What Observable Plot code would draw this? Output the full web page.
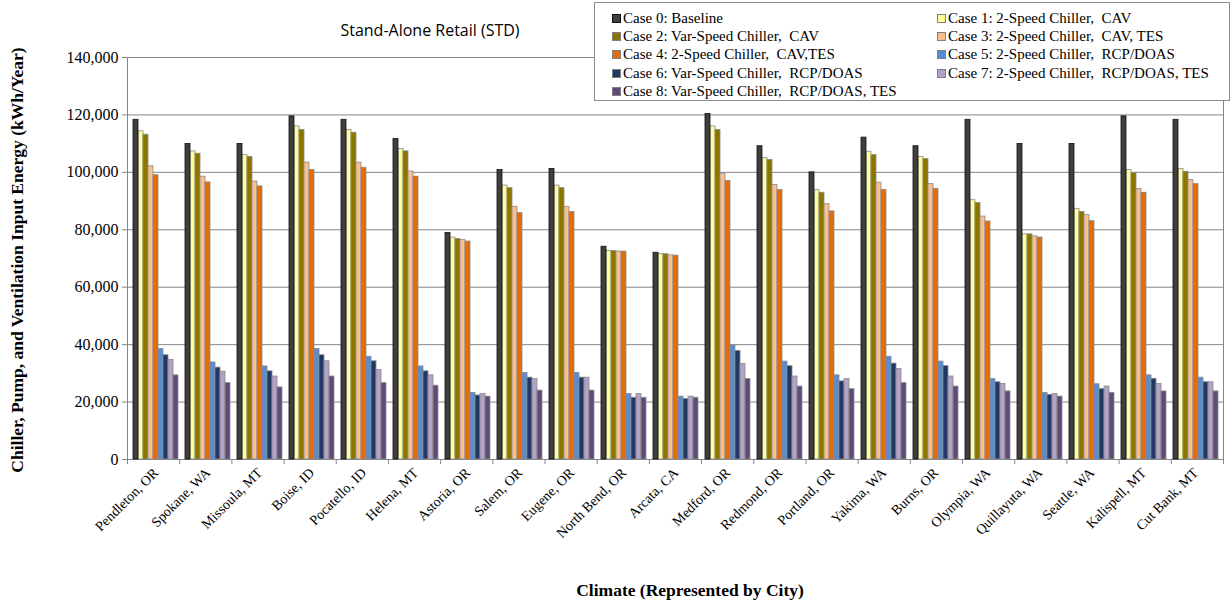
<!DOCTYPE html>
<html>
<head>
<meta charset="utf-8">
<script src="https://cdn.jsdelivr.net/npm/d3@7"></script>
<script src="https://cdn.jsdelivr.net/npm/@observablehq/plot@0.6"></script>
<style>
  body { margin: 0; background: #fff; }
  #wrap { position: relative; width: 1231px; height: 605px; overflow: hidden; font-family: "Liberation Serif", "Times New Roman", serif; }
  #wrap svg { position: absolute; left: 0; top: 0; }
  #wrap svg text { fill: #000; }
  #title { position: absolute; left: 430px; top: 30px; transform: translate(-50%, -50%); font-family: "Open Sans", sans-serif; font-size: 16px; color: #000; white-space: nowrap; }
  #ytitle { position: absolute; left: 17px; top: 260px; transform: translate(-50%, -50%) rotate(-90deg); font-weight: bold; font-size: 17.5px; white-space: nowrap; }
  #xtitle { position: absolute; left: 690px; top: 590px; transform: translate(-50%, -50%); font-weight: bold; font-size: 17.5px; white-space: nowrap; }
  #legend { position: absolute; left: 594px; top: 2px; width: 636px; height: 99px; border: 1px solid #8c8c8c; background: #fff;
            display: grid; grid-template-columns: 325px 290px; grid-auto-rows: 18.3px; padding: 6px 0 0 17px; box-sizing: border-box; font-size: 15px; }
  .item { display: flex; align-items: center; white-space: pre; }
  .sw { width: 7px; height: 7px; border: 1px solid #7f7f7f; margin-right: 2px; flex: none; }
</style>
</head>
<body>
<div id="wrap">
  <div id="title">Stand-Alone Retail (STD)</div>
  <div id="ytitle">Chiller, Pump, and Ventilation Input Energy (kWh/Year)</div>
  <div id="xtitle">Climate (Represented by City)</div>
</div>
<script>
// ---------------- data ----------------
const cities = ["Pendleton, OR", "Spokane, WA", "Missoula, MT", "Boise, ID", "Pocatello, ID", "Helena, MT",
  "Astoria, OR", "Salem, OR", "Eugene, OR", "North Bend, OR", "Arcata, CA", "Medford, OR", "Redmond, OR",
  "Portland, OR", "Yakima, WA", "Burns, OR", "Olympia, WA", "Quillayuta, WA", "Seattle, WA", "Kalispell, MT", "Cut Bank, MT"];

const caseLabels = ["Case 0: Baseline", "Case 1: 2-Speed Chiller,  CAV", "Case 2: Var-Speed Chiller,  CAV",
  "Case 3: 2-Speed Chiller,  CAV, TES", "Case 4: 2-Speed Chiller,  CAV,TES", "Case 5: 2-Speed Chiller,  RCP/DOAS",
  "Case 6: Var-Speed Chiller,  RCP/DOAS", "Case 7: 2-Speed Chiller,  RCP/DOAS, TES", "Case 8: Var-Speed Chiller,  RCP/DOAS, TES"];

const caseColors = ["#3f3f3f", "#ffff99", "#8b7700", "#fabf8f", "#e46c0a", "#558ed5", "#1f3864", "#b3a2c7", "#604a7b"];

const case0 = [118300, 109900, 109900, 119500, 118300, 111600, 78900, 100800, 101200, 74100, 72000, 120300, 109100, 100000, 112100, 109100, 118300, 109900, 109900, 119500, 118300];
const case1 = [114300, 107300, 106000, 116000, 114800, 108100, 77300, 95400, 95400, 72600, 71500, 116000, 105000, 93800, 107200, 105400, 90300, 78400, 87300, 100800, 101200];
const case2 = [113100, 106500, 105400, 114800, 113800, 107300, 76800, 94500, 94500, 72600, 71500, 114800, 104300, 92900, 106000, 104600, 89300, 78400, 86200, 99800, 100200];
const case3 = [102100, 98500, 96800, 103400, 103400, 100300, 76400, 88000, 88000, 72400, 71100, 99600, 95600, 88900, 96400, 95900, 84600, 77700, 85100, 94200, 97300];
const case4 = [99000, 96500, 95100, 100800, 101600, 98500, 75900, 85800, 86200, 72400, 71000, 97000, 93900, 86400, 93900, 94300, 82900, 77300, 83000, 92900, 95900];
const case5 = [38500, 33800, 32400, 38500, 35800, 32400, 23200, 30100, 30100, 22800, 21900, 39700, 34100, 29300, 35800, 34100, 28000, 23200, 26200, 29300, 28500];
const case6 = [36300, 32000, 30700, 36300, 34200, 30700, 22300, 28500, 28500, 21500, 21100, 37800, 32500, 27200, 33400, 32500, 26900, 22500, 24500, 28100, 26900];
const case7 = [34700, 30600, 28900, 34200, 31200, 29300, 22800, 28000, 28500, 22800, 21900, 33300, 28900, 28000, 31500, 28900, 26300, 22800, 25400, 26300, 26900];
const case8 = [29300, 26600, 25100, 28900, 26600, 25700, 21900, 24000, 24000, 21500, 21500, 28000, 25400, 24500, 26600, 25400, 23700, 21900, 23200, 23700, 23700];

const yTicks = [0, 20000, 40000, 60000, 80000, 100000, 120000, 140000];

// ---------------- build ----------------
const series = [case0, case1, case2, case3, case4, case5, case6, case7, case8];
const caseKeys = caseLabels.map(l => l.split(":")[0]);
const data = [];
series.forEach((vals, ci) => vals.forEach((v, i) => data.push({city: cities[i], case: caseKeys[ci], value: v})));

const W = 1231, H = 605;
const M = {marginLeft: 127, marginRight: 8, marginTop: 57, marginBottom: 146};

const bg = Plot.plot({
  width: W, height: H, ...M,
  style: {background: "transparent", fontFamily: "'Liberation Serif', serif", fontSize: "16px", color: "#868686", overflow: "visible"},
  x: {domain: [0, cities.length], ticks: d3.range(cities.length + 1), tickFormat: () => "", tickSize: 5, label: null, axis: "bottom"},
  y: {domain: [0, yTicks[yTicks.length - 1]], ticks: yTicks, tickFormat: d3.format(","), tickSize: 5, tickPadding: 4, label: null},
  marks: [
    Plot.ruleY(yTicks, {stroke: "#868686", strokeWidth: 1}),
    Plot.frame({stroke: "#868686"})
  ]
});

const fg = Plot.plot({
  width: W, height: H, ...M,
  style: {background: "transparent", fontFamily: "'Liberation Serif', serif", fontSize: "14px", color: "#000", overflow: "visible"},
  fx: {domain: cities, paddingInner: 0.14, paddingOuter: 0.07, tickRotate: -45, tickSize: 0, tickPadding: 11, label: null, axis: "bottom"},
  x: {domain: caseKeys, padding: 0, axis: null},
  y: {domain: [0, yTicks[yTicks.length - 1]], axis: null},
  color: {domain: caseKeys, range: caseColors},
  marks: [
    Plot.barY(data, {filter: d => d.case !== caseKeys[0], fx: "city", x: "case", y: "value", fill: "case", stroke: "#8a8a8a", strokeWidth: 0.8}),
    Plot.barY(data, {filter: d => d.case === caseKeys[0], fx: "city", x: "case", y: "value", fill: "case", stroke: "#111", strokeWidth: 0.8})
  ]
});

const wrap = document.getElementById("wrap");
wrap.insertBefore(fg, wrap.firstChild);
wrap.insertBefore(bg, wrap.firstChild);

// legend
const legend = document.createElement("div");
legend.id = "legend";
caseLabels.forEach((lab, i) => {
  const it = document.createElement("div");
  it.className = "item";
  const sw = document.createElement("span");
  sw.className = "sw";
  sw.style.background = caseColors[i];
  if (i === 0) sw.style.borderColor = "#111";
  it.appendChild(sw);
  it.appendChild(document.createTextNode(lab));
  legend.appendChild(it);
});
wrap.appendChild(legend);
</script>
</body>
</html>
